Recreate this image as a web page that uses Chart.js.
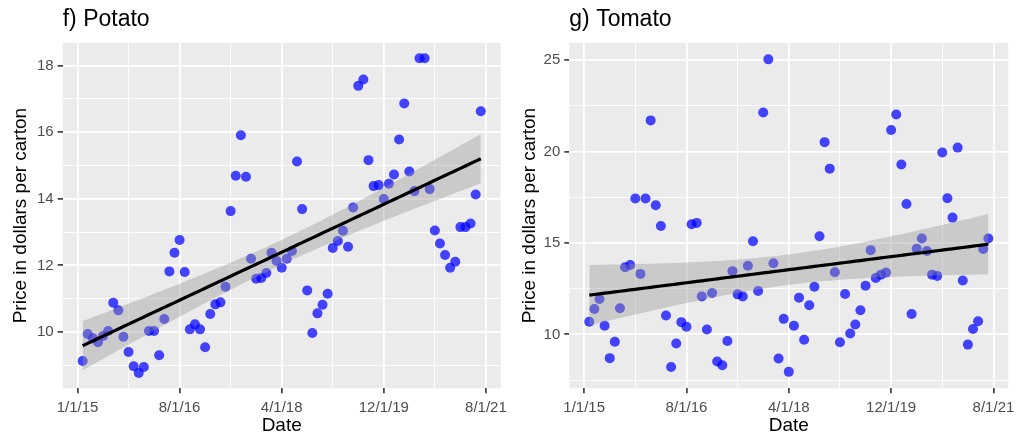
<!DOCTYPE html>
<html>
<head>
<meta charset="utf-8">
<script src="https://cdn.jsdelivr.net/npm/chart.js@4.4.1/dist/chart.umd.min.js"></script>
<style>
  html, body { margin: 0; padding: 0; background: #ffffff; }
  #wrap { position: relative; width: 1019px; height: 438px; }
  .panel { position: absolute; top: 0; height: 438px; }
</style>
</head>
<body>
<div id="wrap">
  <div class="panel" style="left:0px;width:509px"><canvas id="potato" width="509" height="438"></canvas></div>
  <div class="panel" style="left:509px;width:510px"><canvas id="tomato" width="510" height="438"></canvas></div>
</div>
<script>
// x axis: observations are numbered 1..79, labelled dates sit every 20 observations
var xTickValues = [0, 20, 40, 60, 80];
var xTickLabels = ["1/1/15", "8/1/16", "4/1/18", "12/1/19", "8/1/21"];

var potatoPrice = [
  9.13, 9.94, 9.81, 9.69, 9.88, 10.03, 10.88, 10.65, 9.86, 9.40,
  8.97, 8.77, 8.95, 10.03, 10.03, 9.30, 10.39, 11.82, 12.38, 12.76,
  11.80, 10.08, 10.23, 10.08, 9.54, 10.54, 10.83, 10.89, 11.36, 13.63,
  14.69, 15.91, 14.66, 12.20, 11.60, 11.62, 11.77, 12.38, 12.13, 11.93,
  12.20, 12.43, 15.12, 13.69, 11.25, 9.97, 10.56, 10.82, 11.15, 12.52,
  12.73, 13.04, 12.56, 13.74, 17.39, 17.58, 15.16, 14.38, 14.41, 13.99,
  14.45, 14.73, 15.78, 16.86, 14.82, 14.23, 18.22, 18.22, 14.29, 13.05,
  12.66, 12.31, 11.93, 12.11, 13.15, 13.15, 13.26, 14.13, 16.63
];
var tomatoPrice = [
  10.69, 11.39, 11.94, 10.47, 8.70, 9.60, 11.43, 13.67, 13.80, 17.44,
  13.31, 17.44, 21.71, 17.07, 15.93, 11.03, 8.22, 9.50, 10.67, 10.42,
  16.03, 16.10, 12.08, 10.27, 12.26, 8.52, 8.31, 9.64, 13.46, 12.19,
  12.08, 13.76, 15.10, 12.37, 22.14, 25.05, 13.89, 8.68, 10.85, 7.95,
  10.47, 12.01, 9.71, 11.59, 12.61, 15.37, 20.52, 19.07, 13.40, 9.57,
  12.21, 10.05, 10.54, 11.32, 12.66, 14.61, 13.09, 13.26, 13.38, 21.18,
  22.03, 19.30, 17.13, 11.12, 14.69, 15.25, 14.56, 13.27, 13.20, 19.95,
  17.45, 16.39, 20.22, 12.95, 9.44, 10.29, 10.72, 14.67, 15.25
];
var potatoYTicks = [10, 12, 14, 16, 18];
var tomatoYTicks = [10, 15, 20, 25];

Chart.defaults.font.family = "'Liberation Sans', Arial, Helvetica, sans-serif";

// grey panel background like ggplot
var panelBg = {
  id: "panelBg",
  beforeDraw: function (chart) {
    var a = chart.chartArea;
    chart.ctx.save();
    chart.ctx.fillStyle = "#EBEBEB";
    chart.ctx.fillRect(a.left, a.top, a.right - a.left, a.bottom - a.top);
    chart.ctx.restore();
  }
};

// adds minor breaks halfway between the major ones
function withMinor(major, lo, hi) {
  var step = major[1] - major[0];
  var out = [];
  for (var v = major[0] - step / 2; v <= major[major.length - 1] + step / 2 + 1e-9; v += step / 2) {
    if (v >= lo && v <= hi) out.push(v);
  }
  return out;
}

// plain least squares fit with 95% band (geom_smooth(method = "lm"))
function lmBand(xs, ys) {
  var n = xs.length, mx = 0, my = 0;
  for (var i = 0; i < n; i++) { mx += xs[i]; my += ys[i]; }
  mx /= n; my /= n;
  var sxx = 0, sxy = 0;
  for (i = 0; i < n; i++) { sxx += (xs[i] - mx) * (xs[i] - mx); sxy += (xs[i] - mx) * (ys[i] - my); }
  var b = sxy / sxx, a = my - b * mx;
  var sse = 0;
  for (i = 0; i < n; i++) { var r = ys[i] - a - b * xs[i]; sse += r * r; }
  var s = Math.sqrt(sse / (n - 2));
  var t = 1.9913;  // t(0.975, df = 77)
  var fit = [], lower = [], upper = [];
  for (i = 0; i < n; i++) {
    var yh = a + b * xs[i];
    var se = s * Math.sqrt(1 / n + (xs[i] - mx) * (xs[i] - mx) / sxx);
    fit.push({ x: xs[i], y: yh });
    lower.push({ x: xs[i], y: yh - t * se });
    upper.push({ x: xs[i], y: yh + t * se });
  }
  return { fit: fit, lower: lower, upper: upper };
}

function makeChart(id, title, prices, yTicks, yMin, yMax, yAxisWidth, rightPad) {
  var xs = prices.map(function (p, i) { return i + 1; });
  var pts = prices.map(function (p, i) { return { x: xs[i], y: p }; });
  var band = lmBand(xs, prices);
  var xMin = -2.9, xMax = 82.9;
  var xAll = withMinor(xTickValues, xMin, xMax);
  var yAll = withMinor(yTicks, yMin, yMax);

  function isMajor(list, v) {
    for (var k = 0; k < list.length; k++) if (Math.abs(list[k] - v) < 1e-6) return true;
    return false;
  }

  return new Chart(document.getElementById(id), {
    type: "scatter",
    data: {
      datasets: [
        { data: pts, order: 3, pointRadius: 5, pointHoverRadius: 5, borderWidth: 0,
          backgroundColor: "rgba(0,0,255,0.72)", borderColor: "rgba(0,0,255,0)" },
        { data: band.lower, order: 2, showLine: true, pointRadius: 0, borderWidth: 0,
          borderColor: "rgba(0,0,0,0)", fill: false },
        { data: band.upper, order: 2, showLine: true, pointRadius: 0, borderWidth: 0,
          borderColor: "rgba(0,0,0,0)", fill: "-1", backgroundColor: "rgba(153,153,153,0.4)" },
        { data: band.fit, order: 1, showLine: true, pointRadius: 0, borderWidth: 3.2,
          borderColor: "#000000", fill: false }
      ]
    },
    options: {
      responsive: false,
      animation: false,
      events: [],
      layout: { padding: { left: 0, right: rightPad, top: 0, bottom: 0 } },
      plugins: {
        legend: { display: false },
        tooltip: { enabled: false },
        title: {
          display: true, text: title, align: "start", fullSize: false,
          color: "#000000", font: { size: 23, weight: "normal" },
          padding: { top: 5.8, bottom: 9.5 }
        }
      },
      scales: {
        x: {
          type: "linear", min: xMin, max: xMax,
          border: { display: false },
          afterBuildTicks: function (scale) { scale.ticks = xAll.map(function (v) { return { value: v }; }); },
          afterFit: function (scale) {
            scale.height = 438 - 388.3;
            scale.paddingLeft = 0;   // end labels may hang past the panel, as in ggplot
            scale.paddingRight = 0;
          },
          grid: {
            color: "#FFFFFF",
            lineWidth: function (c) { return c.tick && isMajor(xTickValues, c.tick.value) ? 1.8 : 0.9; },
            tickColor: function (c) { return c.tick && isMajor(xTickValues, c.tick.value) ? "#333333" : "rgba(0,0,0,0)"; },
            tickWidth: 1.6, tickLength: 5
          },
          ticks: {
            autoSkip: false, maxRotation: 0, color: "#4D4D4D", font: { size: 15 }, padding: 6,
            callback: function (v) {
              var k = xTickValues.indexOf(v);
              return k >= 0 ? xTickLabels[k] : "";
            }
          },
          title: { display: true, text: "Date", color: "#000000", font: { size: 19 }, padding: { top: 0, bottom: 0.6 } }
        },
        y: {
          type: "linear", min: yMin, max: yMax,
          border: { display: false },
          afterBuildTicks: function (scale) { scale.ticks = yAll.map(function (v) { return { value: v }; }); },
          afterFit: function (scale) { scale.width = yAxisWidth; },
          grid: {
            color: "#FFFFFF",
            lineWidth: function (c) { return c.tick && isMajor(yTicks, c.tick.value) ? 1.8 : 0.9; },
            tickColor: function (c) { return c.tick && isMajor(yTicks, c.tick.value) ? "#333333" : "rgba(0,0,0,0)"; },
            tickWidth: 1.6, tickLength: 5
          },
          ticks: {
            autoSkip: false, color: "#4D4D4D", font: { size: 15 }, padding: 4,
            callback: function (v) { return isMajor(yTicks, v) ? String(v) : ""; }
          },
          title: { display: true, text: "Price in dollars per carton", color: "#000000", font: { size: 19 }, padding: { top: 9, bottom: 0 } }
        }
      }
    },
    plugins: [panelBg]
  });
}

makeChart("potato", "f) Potato", potatoPrice, potatoYTicks, 8.31, 18.68, 62.7, 509 - 500.7);
makeChart("tomato", "g) Tomato", tomatoPrice, tomatoYTicks, 7.05, 25.95, 569.3 - 509, 1019 - 1008.3);
</script>
</body>
</html>
